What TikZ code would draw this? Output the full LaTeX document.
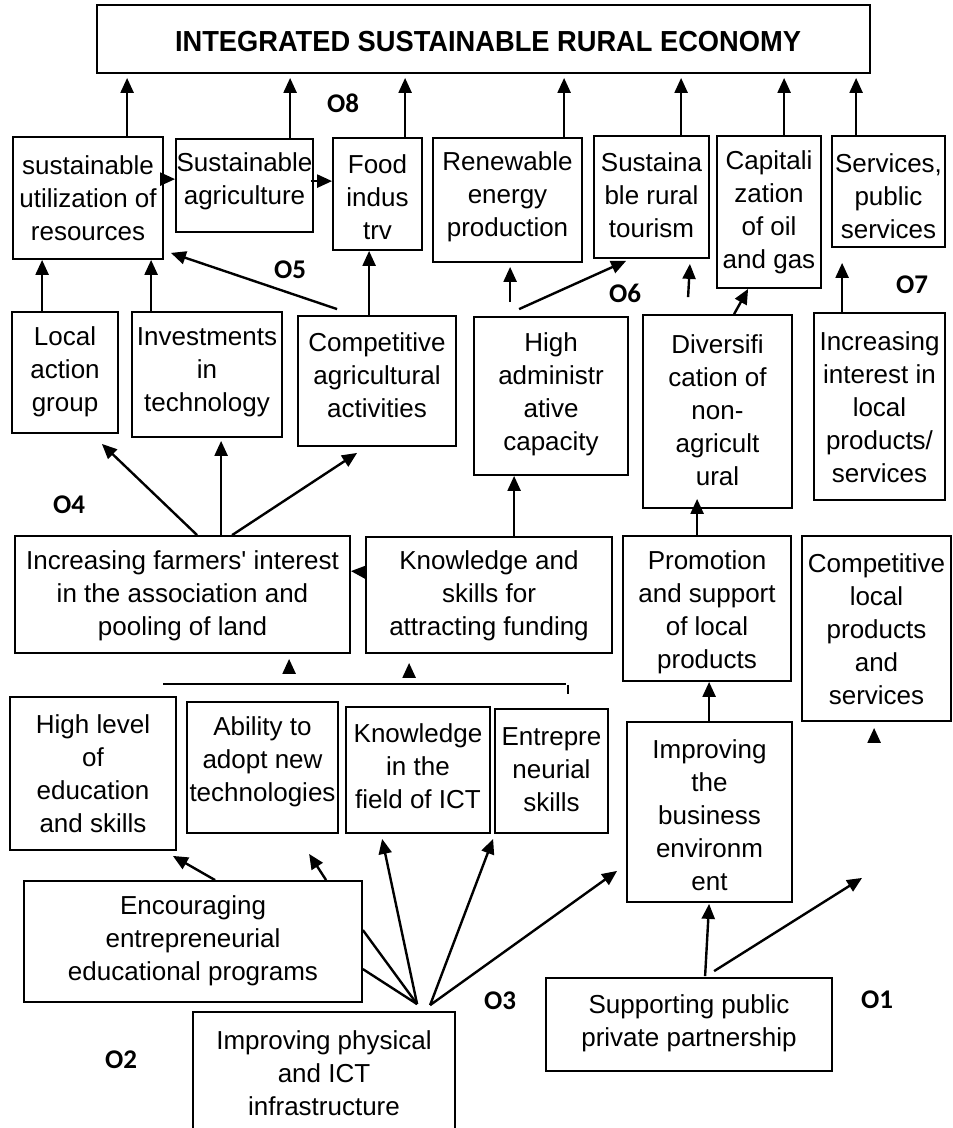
\documentclass[tikz,border=0pt]{standalone}
\usepackage{fontspec}
\setmainfont{Liberation Sans}
\newfontfamily\labfont{Carlito}
\usetikzlibrary{arrows.meta,calc,fit}
\tikzset{
  boxst/.style={draw, line width=1.8pt, inner sep=0pt},
  txt/.style={align=center, inner sep=0pt, font=\fontsize{26}{33}\selectfont},
  arr/.style={line width=2.4pt, -{Triangle[length=15pt,width=13pt]}},
  ln/.style={line width=2.4pt},
  olab/.style={font=\labfont\bfseries\fontsize{27}{30}\selectfont, inner sep=0pt},
}
\newcommand\mkbox[7]{%
  \node[boxst, fit={(#2,#3) (#4,#5)}] (#1) {};
  \node[txt] (#1t) at ({(#2+#4)/2},#6) {#7};}
\begin{document}
\begin{tikzpicture}[x=1pt,y=-1pt]
\useasboundingbox (0,0) rectangle (953,1128);
\fill[white] (0,0) rectangle (953,1128);
% title
\node[boxst, fit={(97,5) (870,73)}] (T) {};
\node[inner sep=0pt, font=\bfseries\fontsize{29}{33}\selectfont] (Tt) at (488,42) {\scalebox{0.94}[1]{INTEGRATED SUSTAINABLE RURAL ECONOMY}};
% row B
\mkbox{B1}{13}{137}{163}{259}{198}{sustainable\\utilization of\\resources}
\mkbox{B2}{176}{139}{313}{232}{181}{Sustainable\\agriculture}
\mkbox{B3}{333}{138}{422}{250}{197}{Food\\indus\\trv}
\mkbox{B4}{433}{138}{582}{262}{197}{Renewable\\energy\\production}
\mkbox{B5}{594}{136}{709}{258}{195}{Sustaina\\ble rural\\tourism}
\mkbox{B6}{717}{136}{821}{288}{212}{Capitali\\zation\\of oil\\and gas}
\mkbox{B7}{832}{136}{945}{247}{196}{Services,\\public\\services}
% row C
\mkbox{C1}{12}{312}{118}{433}{372}{Local\\action\\group}
\mkbox{C2}{132}{312}{282}{437}{372}{Investments\\in\\technology}
\mkbox{C3}{298}{316}{456}{446}{375}{Competitive\\agricultural\\activities}
\mkbox{C4}{474}{317}{628}{475}{394}{High\\administr\\ative\\capacity}
\mkbox{C5}{643}{315}{792}{508}{410}{Diversifi\\cation of\\non-\\agricult\\ural}
\mkbox{C6}{814}{313}{945}{500}{407}{Increasing\\interest in\\local\\products/\\services}
% row D
\mkbox{D1}{15}{536}{350}{653}{596}{Increasing farmers\textquotesingle{} interest\\in the association and\\pooling of land}
\mkbox{D2}{366}{537}{612}{653}{596}{Knowledge and\\skills for\\attracting funding}
\mkbox{D3}{623}{536}{791}{681}{612}{Promotion\\and support\\of local\\products}
\mkbox{D4}{802}{536}{951}{721}{629}{Competitive\\local\\products\\and\\services}
% row E
\mkbox{E1}{10}{697}{176}{850}{774}{High level\\of\\education\\and skills}
\mkbox{E2}{187}{702}{338}{833}{762}{Ability to\\adopt new\\technologies}
\mkbox{E3}{346}{707}{490}{833}{766}{Knowledge\\in the\\field of ICT}
\mkbox{E4}{495}{709}{608}{833}{770}{Entrepre\\neurial\\skills}
\mkbox{E5}{627}{722}{792}{902}{815}{Improving\\the\\business\\environm\\ent}
% row F
\mkbox{F1}{24}{881}{362}{1002}{941}{Encouraging\\entrepreneurial\\educational programs}
\mkbox{F2}{193}{1012}{455}{1140}{1073}{Improving physical\\and ICT\\infrastructure}
\mkbox{F3}{546}{978}{832}{1071}{1023}{Supporting public\\private partnership}
% labels
\node[olab] (O8) at (343,103) {O8};
\node[olab] (O5) at (290,270) {O5};
\node[olab] (O6) at (625,293) {O6};
\node[olab] (O7) at (912,285) {O7};
\node[olab] (O4) at (69,505) {O4};
\node[olab] (O3) at (500,1001) {O3};
\node[olab] (O2) at (121,1060) {O2};
\node[olab] (O1) at (877,1000) {O1};
% arrows to title
\draw[arr] ($(B1.north west)+(115,0)$) -- ($(T.south west)+(31,4)$);
\draw[arr] ($(B2.north west)+(115,0)$) -- ($(T.south west)+(194,4)$);
\draw[arr] ($(B3.north west)+(73,0)$) -- ($(T.south west)+(309,4)$);
\draw[arr] ($(B4.north west)+(132,0)$) -- ($(T.south west)+(468,4)$);
\draw[arr] ($(B5.north west)+(88,0)$) -- ($(T.south west)+(585,4)$);
\draw[arr] ($(B6.north west)+(68,0)$) -- ($(T.south west)+(688,4)$);
\draw[arr] ($(B7.north west)+(25,0)$) -- ($(T.south west)+(760,4)$);
% row B horizontal
\draw[arr] ($(B1.north east)+(-3,43)$) -- ($(B2.north west)+(0,41)$);
\draw[arr] ($(B2.north east)+(-3,43)$) -- ($(B3.north west)+(0,44)$);
% row C to row B
\draw[arr] ($(C1.north west)+(31,0)$) -- ($(B1.south west)+(30,0)$);
\draw[arr] ($(C2.north west)+(20,0)$) -- ($(B1.south west)+(139,0)$);
\draw[arr] ($(C3.north west)+(40,-6)$) -- ($(B1.south east)+(7,-7)$);
\draw[arr] ($(C3.north west)+(72,0)$) -- ($(B3.south west)+(37,0)$);
\draw[arr] ($(C4.north west)+(37,-14)$) -- ($(B4.south west)+(78,4)$);
\draw[arr] ($(C4.north west)+(46,-7)$) -- ($(B5.south west)+(33,2)$);
\draw[arr] ($(C5.north west)+(46,-17)$) -- ($(B5.south east)+(-20,5)$);
\draw[arr] ($(C5.north west)+(92,0)$) -- ($(B6.south west)+(32,0)$);
\draw[arr] ($(C6.north west)+(29,0)$) -- ($(B7.south west)+(11,15)$);
% row D to row C
\draw[arr] ($(D1.north west)+(183,0)$) -- ($(C1.south east)+(-17,10)$);
\draw[arr] ($(D1.north west)+(207,0)$) -- ($(C2.south west)+(90,3)$);
\draw[arr] ($(D1.north west)+(218,0)$) -- ($(C3.south west)+(60,6)$);
\draw[arr] ($(D2.north west)+(149,0)$) -- ($(C4.south west)+(41,0)$);
\draw[arr] ($(D2.north west)+(0,36)$) -- ($(D1.north east)+(0,36)$);
\draw[arr] ($(D3.north west)+(75,0)$) -- ($(C5.south west)+(55,-10)$);
% bracket line and floating heads
\draw[ln] ($(D1.south west)+(149,30)$) -- ($(D2.south west)+(201,30)$);
\draw[line width=1.5pt] ($(D2.south west)+(203,31)$) -- ($(D2.south west)+(203,40)$);
\draw[arr] ($(D1.south west)+(275,20)$) -- ($(D1.south west)+(275,5)$);
\draw[arr] ($(D2.south west)+(44,24)$) -- ($(D2.south west)+(44,9)$);
\draw[arr] ($(D4.south west)+(73,21)$) -- ($(D4.south west)+(73,6)$);
% row E to row D
\draw[arr] ($(E5.north west)+(83,0)$) -- ($(D3.south west)+(87,0)$);
% bottom fans
\coordinate (hub1) at ($(F2.north west)+(225,-7)$);
\coordinate (hub2) at ($(F2.north west)+(238,-6)$);
\coordinate (free1) at ($(D4.south west)+(61,156)$);
\draw[arr] ($(F1.north west)+(192,0)$) -- ($(E1.south east)+(-4,5)$);
\draw[arr] ($(F1.north west)+(303,0)$) -- ($(E2.south west)+(123,20)$);
\draw[ln] (hub1) -- ($(F1.north east)+(0,50)$);
\draw[ln] (hub1) -- ($(F1.north east)+(0,89)$);
\draw[arr] (hub1) -- ($(E3.south west)+(37,5)$);
\draw[arr] (hub2) -- ($(E4.south west)+(-1,5)$);
\draw[arr] (hub2) -- ($(E5.south west)+(-9,-32)$);
\draw[arr] ($(F3.north west)+(160,-1)$) -- ($(E5.south west)+(83,1)$);
\draw[arr] ($(F3.north west)+(169,-6)$) -- (free1);
\end{tikzpicture}
\end{document}
